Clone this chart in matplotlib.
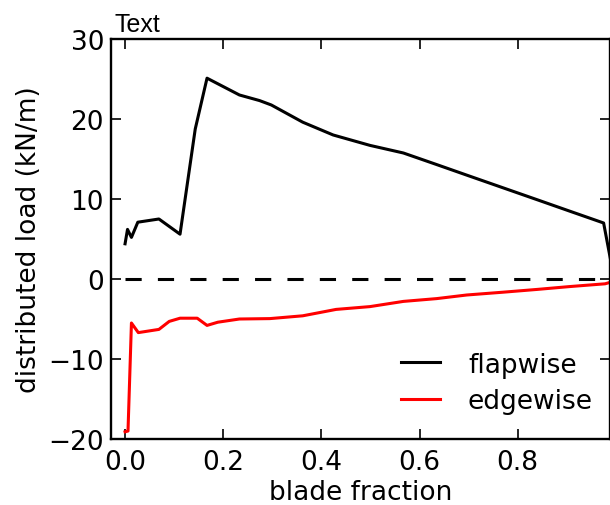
import matplotlib
matplotlib.use("Agg")
import matplotlib.pyplot as plt

# flapwise distributed load
flap_x = [0.0, 0.005, 0.013, 0.026, 0.069, 0.112, 0.143, 0.167, 0.233, 0.274, 0.298,
          0.362, 0.424, 0.499, 0.567, 0.635, 0.70, 0.77, 0.84, 0.905, 0.975, 0.995]
flap_y = [4.4, 6.2, 5.2, 7.1, 7.5, 5.6, 18.75, 25.1, 23.0, 22.3, 21.75,
          19.6, 18.0, 16.7, 15.75, 14.3, 12.9, 11.4, 9.9, 8.5, 7.0, 0.5]

# edgewise distributed load
edge_x = [0.0, 0.006, 0.013, 0.027, 0.069, 0.09, 0.112, 0.147, 0.167, 0.189, 0.233,
          0.295, 0.362, 0.43, 0.499, 0.567, 0.635, 0.696, 0.77, 0.84, 0.905, 0.978, 0.995]
edge_y = [-19.1, -19.0, -5.5, -6.7, -6.3, -5.3, -4.9, -4.9, -5.8, -5.4, -5.0,
          -4.95, -4.6, -3.8, -3.45, -2.8, -2.45, -2.0, -1.65, -1.3, -0.95, -0.6, -0.3]

zero_x = [0.0, 0.995]
zero_y = [0.0, 0.0]

x_ticks = [0.0, 0.2, 0.4, 0.6, 0.8]
y_ticks = [-20, -10, 0, 10, 20, 30]

plt.rcParams['font.family'] = ['DejaVu Sans']
plt.rcParams['axes.unicode_minus'] = True

fig = plt.figure(figsize=(6.10, 5.06), dpi=100)
ax = fig.add_axes([0.182, 0.1304, 0.818, 0.7906])

ax.plot(flap_x, flap_y, color='black', lw=2.2, label='flapwise')
ax.plot(edge_x, edge_y, color='red', lw=2.2, label='edgewise')
ax.plot(zero_x, zero_y, color='black', lw=2.2, dashes=(5.3, 5.3))

ax.set_xlim(-0.0286, 0.988)
ax.set_ylim(-20, 30)
ax.set_xticks(x_ticks)
ax.set_yticks(y_ticks)
ax.set_xticklabels([f"{v:.1f}" for v in x_ticks])
ax.tick_params(direction='in', top=True, right=True, length=7, width=1.2,
               labelsize=19, pad=7)
ax.tick_params(axis='y', pad=5)
for s in ax.spines.values():
    s.set_linewidth(1.7)

ax.set_xlabel('blade fraction', fontsize=19, labelpad=3)
ax.set_ylabel('distributed load (kN/m)', fontsize=19, labelpad=5)

ax.legend(loc='lower right', bbox_to_anchor=(0.987, 0.036), borderaxespad=0,
          frameon=False, fontsize=19, handlelength=1.5,
          handletextpad=1.05, labelspacing=0.4)

fig.text(115 / 610, 1 - 32 / 506, 'Text', family=['Liberation Sans'], fontsize=18,
         va='baseline', ha='left')

fig.savefig('out.png', dpi=100)
